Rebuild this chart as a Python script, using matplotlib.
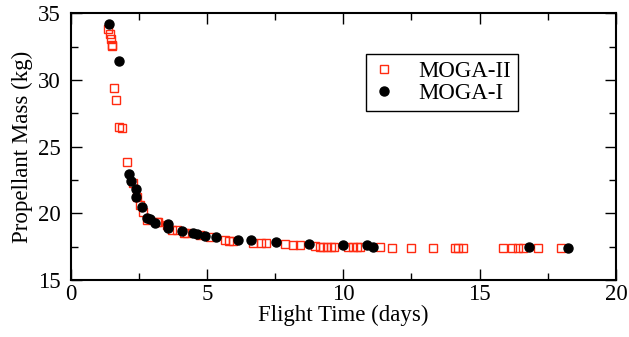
import matplotlib
matplotlib.use('Agg')
import matplotlib.pyplot as plt
from matplotlib.ticker import MultipleLocator

plt.rcParams['font.family'] = ['Liberation Serif', 'DejaVu Serif']

# MOGA-II (red open squares)
moga2_time = [1.38, 1.44, 1.48, 1.50, 1.53, 1.60, 1.65, 1.78, 1.89, 2.06,
              2.30, 2.42, 2.54, 2.66, 2.79, 3.15, 3.21, 3.52, 3.70, 3.89,
              4.15, 4.25, 4.74, 5.11, 5.66, 5.82, 5.96, 6.70, 6.98, 7.16,
              7.86, 8.16, 8.41, 8.96, 9.14, 9.26, 9.39, 9.53, 9.66, 10.18,
              10.34, 10.49, 10.61, 11.34, 11.77, 12.47, 13.30, 14.09, 14.21, 14.40,
              15.86, 16.17, 16.41, 16.60, 17.15, 18.00]
moga2_mass = [33.8, 33.43, 33.06, 32.63, 32.58, 29.4, 28.5, 26.5, 26.43, 23.87,
              22.3, 21.25, 20.6, 20.1, 19.5, 19.37, 19.37, 19.1, 18.75, 18.75,
              18.5, 18.55, 18.38, 18.2, 18.0, 17.95, 17.95, 17.75, 17.8, 17.75,
              17.7, 17.63, 17.63, 17.55, 17.5, 17.5, 17.5, 17.5, 17.5, 17.5,
              17.5, 17.5, 17.5, 17.45, 17.38, 17.38, 17.38, 17.38, 17.38, 17.38,
              17.38, 17.38, 17.38, 17.38, 17.38, 17.38]

# MOGA-I (black filled circles)
moga1_time = [1.42, 1.77, 2.15, 2.20, 2.39, 2.41, 2.63, 2.81, 2.91, 3.09,
              3.56, 3.58, 4.07, 4.50, 4.62, 4.91, 5.34, 6.15, 6.61, 7.54,
              8.75, 9.97, 10.88, 11.10, 16.82, 18.23]
moga1_mass = [34.2, 31.4, 22.95, 22.45, 21.8, 21.25, 20.45, 19.67, 19.58, 19.3,
              19.2, 18.9, 18.68, 18.5, 18.43, 18.32, 18.2, 18.0, 18.0, 17.87,
              17.7, 17.63, 17.63, 17.5, 17.5, 17.38]

fig = plt.figure(figsize=(6.29, 3.37), dpi=100)
ax = fig.add_axes([0.1124, 0.1691, 0.8669, 0.7914])

ax.plot(moga2_time, moga2_mass, ls='none', marker='s', ms=6.3, mfc='none',
        mec='#ff2a10', mew=1.0, label='MOGA-II')
ax.plot(moga1_time, moga1_mass, ls='none', marker='o', ms=6.5, mfc='black',
        mec='black', label='MOGA-I')

ax.set_xlim(0, 20)
ax.set_ylim(15, 35)
ax.xaxis.set_major_locator(MultipleLocator(5))
ax.xaxis.set_minor_locator(MultipleLocator(2.5))
ax.yaxis.set_major_locator(MultipleLocator(5))
ax.yaxis.set_minor_locator(MultipleLocator(2.5))
ax.tick_params(which='both', direction='in', top=True, right=True, labelsize=16.5)
ax.tick_params(axis='x', pad=3)
ax.tick_params(axis='y', pad=7)
ax.tick_params(which='major', length=8, width=1.0)
ax.tick_params(which='minor', length=5, width=1.0)
for s in ax.spines.values():
    s.set_linewidth(1.5)

ax.set_xlabel('Flight Time (days)', fontsize=16.5, labelpad=0)
ax.set_ylabel('Propellant Mass (kg)', fontsize=16.5, labelpad=4)

leg = ax.legend(loc='upper left', bbox_to_anchor=(0.52, 0.89), fontsize=16.5,
                fancybox=False, edgecolor='black', framealpha=1,
                handletextpad=1.0, borderpad=0.3, labelspacing=0.05,
                handlelength=1.0, borderaxespad=0.5)
leg.get_frame().set_linewidth(1.0)

fig.savefig('out.png', dpi=100)
